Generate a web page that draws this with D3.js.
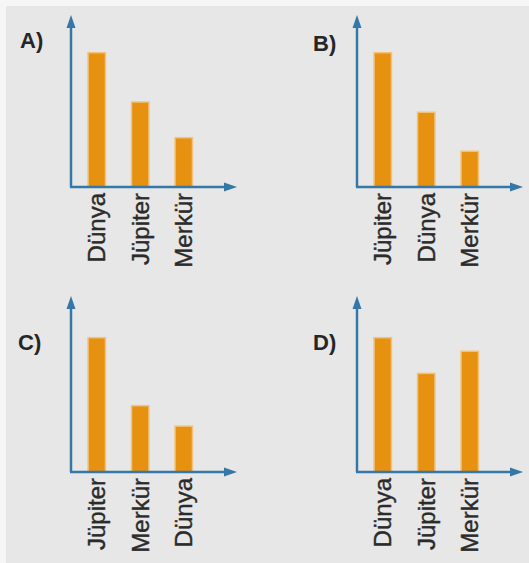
<!DOCTYPE html>
<html>
<head>
    <meta charset="utf-8">
    <title>Planets</title>
    <style>
        body {
            margin: 0;
            background-color: #f6f6f6;
        }
        svg {
            display: block;
        }
        .panel-label {
            font-family: "Liberation Sans", Arial, sans-serif;
            font-size: 22px;
            font-weight: bold;
            fill: #262626;
        }
        .cat-label {
            font-family: "Liberation Sans", Arial, sans-serif;
            font-size: 24px;
            fill: #2b2b2b;
            stroke: #2b2b2b;
            stroke-width: 0.4px;
        }
    </style>
    <script src="https://cdn.jsdelivr.net/npm/d3@7"></script>
</head>
<body>
<script>
    // chart data
    const panelLetters = ["A)", "B)", "C)", "D)"];
    const planetsA = ["Dünya", "Jüpiter", "Merkür"];
    const planetsB = ["Jüpiter", "Dünya", "Merkür"];
    const planetsC = ["Jüpiter", "Merkür", "Dünya"];
    const planetsD = ["Dünya", "Jüpiter", "Merkür"];
    const valuesA = [79, 50, 29];
    const valuesB = [79, 44, 21];
    const valuesC = [79, 39, 27];
    const valuesD = [79, 58, 71];

    const width = 529,
        height = 563;

    const axisColor = "#3577a6",
        barColor = "#e6910f";

    const panels = [
        {letter: panelLetters[0], cats: planetsA, vals: valuesA, x0: 71, base: 187, top: 15, lx: 20, ly: 48},
        {letter: panelLetters[1], cats: planetsB, vals: valuesB, x0: 357, base: 187, top: 15, lx: 313, ly: 51},
        {letter: panelLetters[2], cats: planetsC, vals: valuesC, x0: 71, base: 472, top: 296, lx: 18, ly: 350},
        {letter: panelLetters[3], cats: planetsD, vals: valuesD, x0: 357, base: 472, top: 296, lx: 313, ly: 350}
    ];

    let svg = d3.select("body").append("svg")
        .attr("width", width)
        .attr("height", height);

    svg.append("rect")
        .attr("x", 6)
        .attr("y", 6)
        .attr("width", width - 6)
        .attr("height", height - 6)
        .attr("fill", "#e7e7e7");

    // same value scale for every panel: 100 units ~ 170px
    const yHeight = 170;
    const y = d3.scaleLinear().domain([0, 100]).range([0, yHeight]);

    panels.forEach(function(p) {
        let g = svg.append("g");

        let x = d3.scaleBand()
            .domain(p.cats)
            .range([p.x0 + 4, p.x0 + 134.5])
            .paddingInner(0.6)
            .paddingOuter(0.3);

        // bars
        g.selectAll("rect.bar")
            .data(p.vals)
            .enter().append("rect")
            .attr("class", "bar")
            .attr("x", (d, i) => x(p.cats[i]))
            .attr("y", d => p.base - y(d))
            .attr("width", x.bandwidth())
            .attr("height", d => y(d))
            .attr("fill", barColor)
            .attr("stroke", "#f3c27a")
            .attr("stroke-width", 1.5);

        // axes
        const xEnd = p.x0 + 166;
        g.append("line")
            .attr("x1", p.x0).attr("y1", p.base)
            .attr("x2", p.x0).attr("y2", p.top + 10)
            .attr("stroke", axisColor)
            .attr("stroke-width", 2.5);
        g.append("line")
            .attr("x1", p.x0 - 1).attr("y1", p.base)
            .attr("x2", xEnd - 10).attr("y2", p.base)
            .attr("stroke", axisColor)
            .attr("stroke-width", 2.5);
        g.append("path")
            .attr("d", "M" + p.x0 + "," + p.top + " L" + (p.x0 - 4.5) + "," + (p.top + 13) + " L" + (p.x0 + 4.5) + "," + (p.top + 13) + " Z")
            .attr("fill", axisColor);
        g.append("path")
            .attr("d", "M" + xEnd + "," + p.base + " L" + (xEnd - 13) + "," + (p.base - 4.5) + " L" + (xEnd - 13) + "," + (p.base + 4.5) + " Z")
            .attr("fill", axisColor);

        // category labels, rotated
        g.selectAll("text.cat-label")
            .data(p.cats)
            .enter().append("text")
            .attr("class", "cat-label")
            .attr("transform", d => "translate(" + (x(d) + x.bandwidth() / 2) + "," + (p.base + 6) + ") rotate(-90)")
            .attr("dy", "0.36em")
            .style("text-anchor", "end")
            .text(d => d);

        g.append("text")
            .attr("class", "panel-label")
            .attr("x", p.lx)
            .attr("y", p.ly)
            .text(p.letter);
    });
</script>
</body>
</html>
